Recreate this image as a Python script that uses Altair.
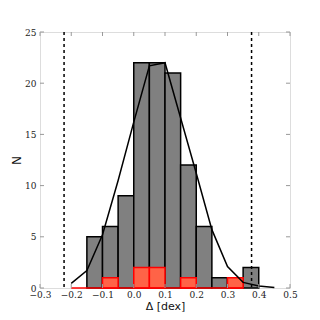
import altair as alt
import pandas as pd

# Histogram bins (left edges, width 0.05)
bin_left = [-0.15, -0.10, -0.05, 0.00, 0.05, 0.10, 0.15, 0.20, 0.25, 0.30, 0.35]
gray_counts = [5, 6, 9, 22, 22, 21, 12, 6, 1, 1, 2]
red_counts = [0, 1, 0, 2, 2, 0, 1, 0, 0, 1, 0]
bin_width = 0.05

# Model curve
curve_x = [-0.20, -0.15, -0.10, -0.05, 0.00, 0.05, 0.10, 0.15, 0.20, 0.25, 0.30, 0.35, 0.40, 0.45]
curve_y = [0.45, 1.7, 5.2, 10.5, 16.2, 21.7, 22.0, 16.6, 11.2, 5.7, 2.1, 0.55, 0.2, 0.05]

# Dashed limits
vlines = [-0.223, 0.377]

x_ticks = [-0.3, -0.2, -0.1, 0.0, 0.1, 0.2, 0.3, 0.4, 0.5]
y_ticks = [0, 5, 10, 15, 20, 25]

W, H = 250, 256

hist = pd.DataFrame({
    "x": bin_left,
    "x2": [b + bin_width for b in bin_left],
    "n": gray_counts,
    "r": red_counts,
})
hist_red = hist[hist["r"] > 0]
curve = pd.DataFrame({"x": curve_x, "y": curve_y})
vl = pd.DataFrame({"x": vlines})
xt = pd.DataFrame({"x": x_ticks})
yt = pd.DataFrame({"y": y_ticks})
base_red = pd.DataFrame({"x": [-0.2], "x2": [0.35]})

xs = alt.Scale(domain=[-0.3, 0.5], nice=False, zero=False)
ys = alt.Scale(domain=[0, 25], nice=False)

xaxis = alt.Axis(values=x_ticks, ticks=False, domain=False, grid=False,
                 labelFont="DejaVu Serif", labelFontSize=9, labelColor="#222",
                 labelPadding=2, labelOverlap=False, labelFlush=False,
                 title="Δ [dex]", titleFont="DejaVu Sans",
                 titleFontSize=11, titleFontWeight="normal", titlePadding=1,
                 titleColor="#111",
                 format=".1f", labelExpr="replace(datum.label, '-', '−')")
yaxis = alt.Axis(values=y_ticks, ticks=False, domain=False, grid=False,
                 labelFont="DejaVu Serif", labelFontSize=9, labelColor="#222",
                 labelPadding=4, labelOverlap=False, labelFlush=False,
                 title="N", titleFont="DejaVu Sans", titleColor="#111",
                 titleFontSize=12, titleFontWeight="normal", titlePadding=1)


def X(field):
    return alt.X(field, scale=xs, axis=xaxis)


def Y(field):
    return alt.Y(field, scale=ys, axis=yaxis)


gray = alt.Chart(hist).mark_rect(fill="#808080", stroke="black", strokeWidth=1.5).encode(
    x=X("x:Q"), x2="x2:Q", y=Y("n:Q"), y2=alt.datum(0),
)
red = alt.Chart(hist_red).mark_rect(fill="#ff6347", stroke="#ff0000", strokeWidth=1.5).encode(
    x=X("x:Q"), x2="x2:Q", y=Y("r:Q"), y2=alt.datum(0),
)
red_base = alt.Chart(base_red).mark_rule(color="#ff0000", strokeWidth=1.5).encode(
    x=X("x:Q"), x2="x2:Q", y=alt.value(H),
)
line = alt.Chart(curve).mark_line(color="black", strokeWidth=1.5).encode(
    x=X("x:Q"), y=Y("y:Q"),
)
dashed = alt.Chart(vl).mark_rule(color="black", strokeWidth=1.5, strokeDash=[3, 3]).encode(
    x=X("x:Q"), y=alt.value(0), y2=alt.value(H),
)
tick_col = "#999999"
xt_bot = alt.Chart(xt).mark_rule(color=tick_col, strokeWidth=1).encode(
    x=X("x:Q"), y=alt.value(H), y2=alt.value(H - 4))
xt_top = alt.Chart(xt).mark_rule(color=tick_col, strokeWidth=1).encode(
    x=X("x:Q"), y=alt.value(0), y2=alt.value(4))
yt_left = alt.Chart(yt).mark_rule(color=tick_col, strokeWidth=1).encode(
    y=Y("y:Q"), x=alt.value(0), x2=alt.value(4))
yt_right = alt.Chart(yt).mark_rule(color=tick_col, strokeWidth=1).encode(
    y=Y("y:Q"), x=alt.value(W), x2=alt.value(W - 4))

chart = alt.layer(gray, red, red_base, line, dashed, xt_bot, xt_top, yt_left, yt_right).properties(
    width=W, height=H,
    autosize=alt.AutoSizeParams(type="none"),
    padding={"left": 32, "top": 24, "right": 14, "bottom": 24},
).configure_view(stroke="#999999", strokeWidth=1.2).configure_axis(
    labelOverlap=False
).configure(background="white")

chart.save("out.html", embed_options={"renderer": "svg", "actions": False})
